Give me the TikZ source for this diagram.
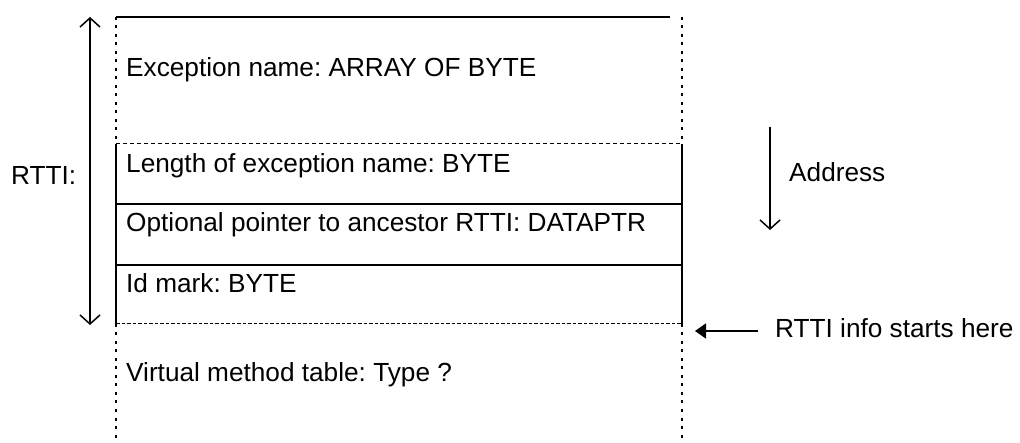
\documentclass[tikz,border=0pt]{standalone}
\usepackage{fontspec}
\setmainfont{Liberation Sans}
\usetikzlibrary{arrows.meta}
\frenchspacing
\begin{document}
\begin{tikzpicture}[x=1pt,y=-1pt,
  lbl/.style={anchor=base west, inner sep=0pt, font=\fontsize{26.2}{30}\selectfont},
  boxline/.style={line width=1.5pt},
  dotline/.style={line width=1.8pt, dash pattern=on 3pt off 5.5pt},
  dashline/.style={line width=1pt, dash pattern=on 4pt off 3pt},
  dashline2/.style={line width=1pt, dash pattern=on 3.5pt off 2pt},
  barbtip/.tip={Straight Barb[length=9pt,width=20pt]},
  arr/.style={line width=1.5pt}
]
\useasboundingbox (0,0) rectangle (1020,443);
% corners
\coordinate (tl) at (116,17);
\coordinate (tend) at (670,17);
\coordinate (tr) at (682,17);
\coordinate (al) at (116,144);
\coordinate (ar) at (682,144);
\coordinate (bl) at (116,204);
\coordinate (br) at (682,204);
\coordinate (cl) at (116,265);
\coordinate (cr) at (682,265);
\coordinate (dl) at (116,324);
\coordinate (dr) at (682,324);
\coordinate (el) at (116,443);
\coordinate (er) at (682,443);
% box
\draw[boxline] (tl) -- (tend);
\draw[dotline] (tl) -- (al);
\draw[dotline] (tr) -- (ar);
\draw[dashline] (al) -- (ar);
\draw[boxline] (al) -- (dl);
\draw[boxline] (ar) -- (dr);
\draw[boxline] (bl) -- (br);
\draw[boxline] (cl) -- (cr);
\draw[dashline2] (dl) -- (dr);
\draw[dotline] (dl) -- (el);
\draw[dotline] (dr) -- (er);
% texts
\node[lbl] (exc) at (126,77) {Exception name: ARRAY OF BYTE};
\node[lbl] (len) at (126,173) {Length of exception name: BYTE};
\node[lbl] (opt) at (126,232) {Optional pointer to ancestor RTTI: DATAPTR};
\node[lbl] (id) at (126,292.5) {Id mark: BYTE};
\node[lbl] (vmt) at (126,382) {Virtual method table: Type ?};
\node[lbl] (rtti) at (11,185) {RTTI:};
\node[lbl] (addr) at (789,182) {Address};
\node[lbl] (start) at (775,338) {RTTI info starts here};
% arrows
\coordinate (r1) at (90,17);
\coordinate (r2) at (90,325);
\draw[arr, barbtip-barbtip] (r1) -- (r2);
\coordinate (a1) at (770,127);
\coordinate (a2) at (770,230);
\draw[arr, -barbtip] (a1) -- (a2);
\coordinate (s1) at (758,331);
\coordinate (s2) at (695,331);
\draw[arr, -{Triangle[length=11pt,width=15pt]}] (s1) -- (s2);
\end{tikzpicture}
\end{document}
